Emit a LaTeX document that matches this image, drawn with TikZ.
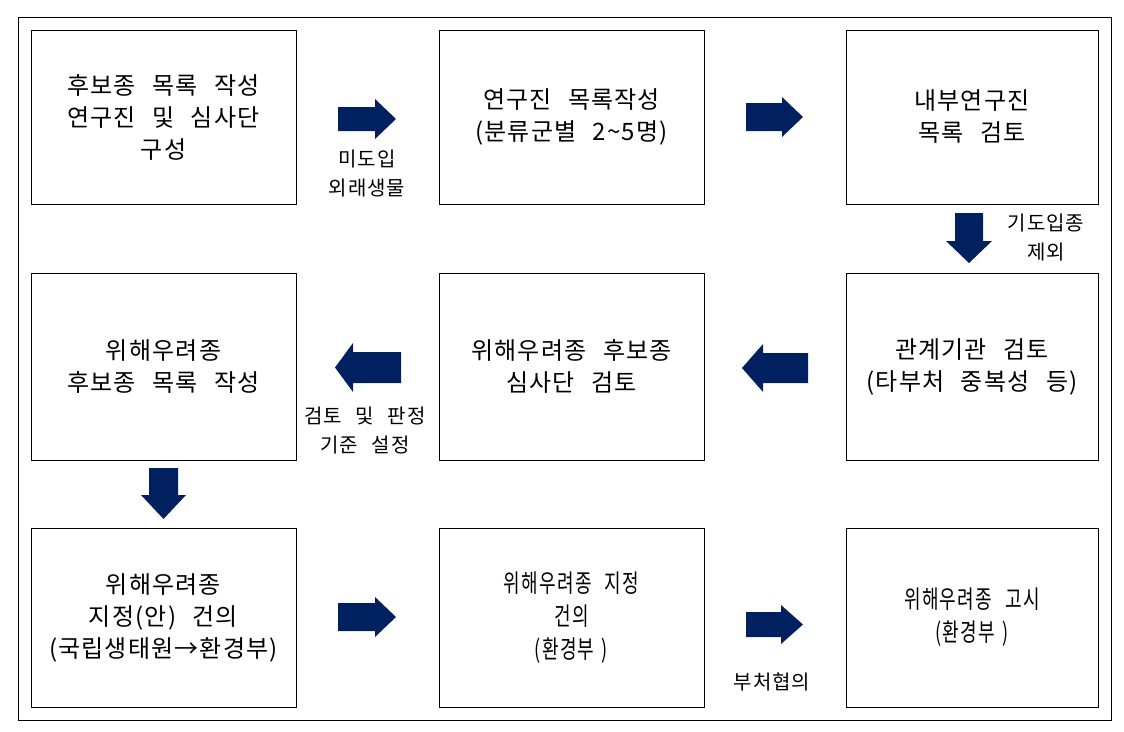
\documentclass[tikz,border=0pt]{standalone}
\usepackage{fontspec}
\setmainfont{Noto Sans CJK KR}[WordSpace=2.5, LetterSpace=5]
\newfontfamily\narrowkr{Noto Sans CJK KR}[WordSpace=2.5, LetterSpace=5, FakeStretch=0.72]
\definecolor{navy}{RGB}{0,32,96}
\tikzset{
  stagebox/.style={draw, line width=1pt, inner sep=0pt, align=center, font=\fontsize{24}{32}\selectfont},
  narrowstage/.style={stagebox, font=\narrowkr\fontsize{25}{33}\selectfont},
  steplabel/.style={inner sep=0pt, align=center, font=\fontsize{20}{29}\selectfont}
}
\begin{document}
\begin{tikzpicture}[x=1pt, y=-1pt]
\useasboundingbox ( 0, 0 ) rectangle ( 1124, 731 );

%% Frame
\draw [line width=1pt] ( 18, 17 ) rectangle ( 1111, 720 );

%% Stages
% Row 1
\node [stagebox, minimum width=265pt, minimum height=174pt] (cand) at ( 163.5, 117 ) {후보종 목록 작성\\연구진 및 심사단\\구성};
\node [stagebox, minimum width=265pt, minimum height=174pt] (list) at ( 571.5, 117 ) {연구진 목록작성\\(분류군별 2\textasciitilde5명)};
\node [stagebox, minimum width=252pt, minimum height=174pt] (inner) at ( 972, 117 ) {내부연구진\\목록 검토};

% Row 2
\node [stagebox, minimum width=265pt, minimum height=187pt] (draft) at ( 163.5, 366.5 ) {위해우려종\\후보종 목록 작성};
\node [stagebox, minimum width=265pt, minimum height=187pt] (panel) at ( 571.5, 366.5 ) {위해우려종 후보종\\심사단 검토};
\node [stagebox, minimum width=252pt, minimum height=187pt] (agency) at ( 972, 366.5 ) {관계기관 검토\\(타부처 중복성 등)};

% Row 3
\node [stagebox, minimum width=265pt, minimum height=179pt] (propose) at ( 163.5, 617.5 ) {위해우려종\\지정(안) 건의\\(국립생태원→환경부)};
\node [narrowstage, minimum width=265pt, minimum height=179pt] (designate) at ( 571.5, 617.5 ) {위해우려종 지정\\건의\\(환경부\hspace{0.3em})};
\node [narrowstage, minimum width=252pt, minimum height=179pt] (notice) at ( 972, 617.5 ) {위해우려종 고시\\(환경부\hspace{0.3em})};

%% Block arrows
\fill [navy] ( 338, 107 ) -- ++( 37, 0 ) -- ++( 0, -8 ) -- ++( 21, 20 ) -- ++( -21, 20 ) -- ++( 0, -8 ) -- ++( -37, 0 ) -- cycle;
\fill [navy] ( 746, 103 ) -- ++( 36, 0 ) -- ++( 0, -6 ) -- ++( 21, 20 ) -- ++( -21, 20 ) -- ++( 0, -6 ) -- ++( -36, 0 ) -- cycle;
\fill [navy] ( 955, 213 ) -- ++( 28, 0 ) -- ++( 0, 28 ) -- ++( 9, 0 ) -- ++( -23, 22 ) -- ++( -23, -22 ) -- ++( 9, 0 ) -- cycle;
\fill [navy] ( 808, 353 ) -- ++( -45, 0 ) -- ++( 0, -9 ) -- ++( -21, 24 ) -- ++( 21, 24 ) -- ++( 0, -9 ) -- ++( 45, 0 ) -- cycle;
\fill [navy] ( 401, 352 ) -- ++( -48, 0 ) -- ++( 0, -9 ) -- ++( -18, 24.5 ) -- ++( 18, 24.5 ) -- ++( 0, -9 ) -- ++( 48, 0 ) -- cycle;
\fill [navy] ( 149, 468 ) -- ++( 29, 0 ) -- ++( 0, 27 ) -- ++( 8, 0 ) -- ++( -22.5, 24 ) -- ++( -22.5, -24 ) -- ++( 8, 0 ) -- cycle;
\fill [navy] ( 338, 603 ) -- ++( 37, 0 ) -- ++( 0, -6 ) -- ++( 21, 20 ) -- ++( -21, 20 ) -- ++( 0, -6 ) -- ++( -37, 0 ) -- cycle;
\fill [navy] ( 746, 612 ) -- ++( 35, 0 ) -- ++( 0, -7 ) -- ++( 22, 19.5 ) -- ++( -22, 19.5 ) -- ++( 0, -7 ) -- ++( -35, 0 ) -- cycle;

%% Labels
\node [steplabel] (alien) at ( 367, 174 ) {미도입\\외래생물};
\node [steplabel] (excl) at ( 1046, 238 ) {기도입종\\제외};
\node [steplabel] (crit) at ( 365, 431 ) {검토 및 판정\\기준 설정};
\node [steplabel] (consult) at ( 772, 682 ) {부처협의};

\end{tikzpicture}
\end{document}
